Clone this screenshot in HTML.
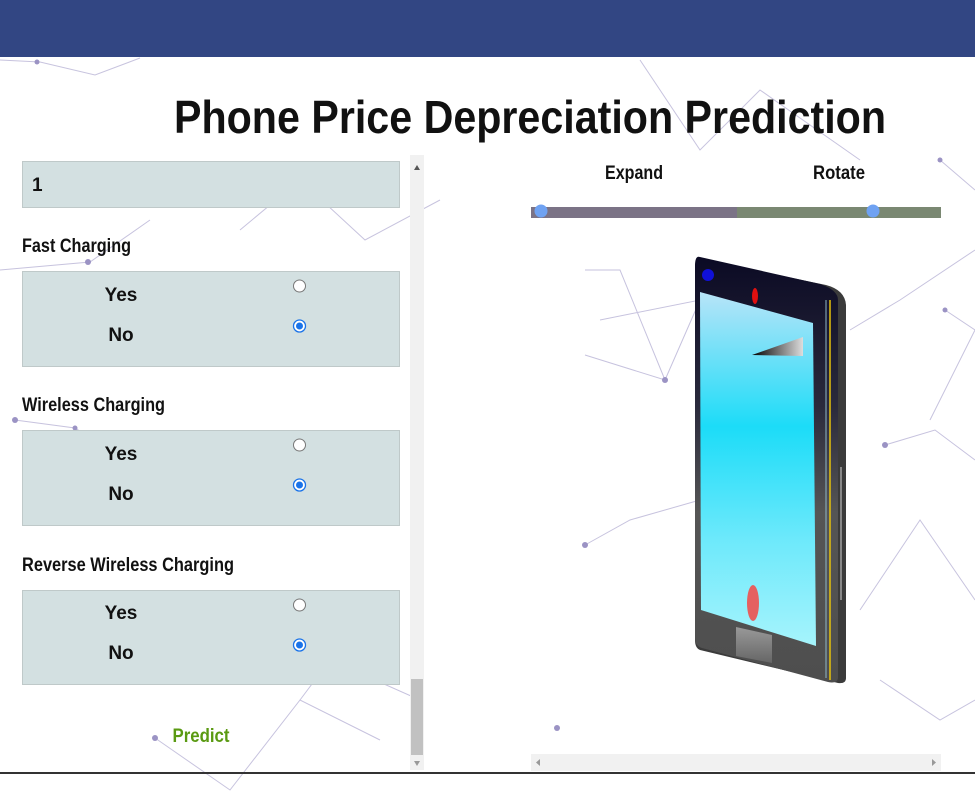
<!DOCTYPE html>
<html><head><meta charset="utf-8"><style>
html,body{margin:0;padding:0;width:975px;height:800px;overflow:hidden;background:#fff;}
svg{display:block;font-family:"Liberation Sans",sans-serif;}
</style></head><body>
<svg width="975" height="800" viewBox="0 0 975 800">
<defs>
<linearGradient id="bodyg" x1="0" y1="0" x2="0" y2="1"><stop offset="0" stop-color="#0b0a24"/><stop offset="0.35" stop-color="#2a2a3c"/><stop offset="0.6" stop-color="#555"/><stop offset="1" stop-color="#4e4e4e"/></linearGradient>
<linearGradient id="scrg" x1="0" y1="0" x2="0" y2="1"><stop offset="0" stop-color="#b8e4f8"/><stop offset="0.38" stop-color="#1cdcf8"/><stop offset="0.7" stop-color="#6de9fb"/><stop offset="1" stop-color="#a6f4fc"/></linearGradient>
<linearGradient id="spk" x1="0" y1="0" x2="1" y2="0"><stop offset="0" stop-color="#000"/><stop offset="1" stop-color="#ddd"/></linearGradient>
<linearGradient id="homeg" x1="0" y1="0" x2="0" y2="1"><stop offset="0" stop-color="#999"/><stop offset="1" stop-color="#666"/></linearGradient>
</defs>
<g stroke="#b9b4d6" stroke-width="1" fill="none" opacity="0.8">
<polyline points="0,60 40,62 95,75 140,58"/><polyline points="240,230 300,180 365,240 440,200"/><polyline points="0,270 90,262 150,220"/><polyline points="15,420 75,428 140,470"/>
<polyline points="585,545 630,520 700,500"/><polyline points="585,270 620,270 665,380 585,355"/><polyline points="885,445 935,430 975,460"/><polyline points="860,610 920,520 975,600"/>
<polyline points="155,738 230,790 300,700 380,740"/><polyline points="940,160 975,190"/><polyline points="945,310 975,330 930,420"/><polyline points="600,320 700,300 665,380"/><polyline points="300,700 330,660 420,700"/>
<polyline points="640,60 700,150 760,90 860,160"/><polyline points="850,330 900,300 975,250"/><polyline points="880,680 940,720 975,700"/>
</g>
<g fill="#9b93c4">
<circle cx="37" cy="62" r="2.5"/><circle cx="88" cy="262" r="3"/><circle cx="15" cy="420" r="3"/><circle cx="75" cy="428" r="2.5"/><circle cx="585" cy="545" r="3"/><circle cx="665" cy="380" r="3"/><circle cx="885" cy="445" r="3"/><circle cx="155" cy="738" r="3"/><circle cx="557" cy="728" r="3"/><circle cx="945" cy="310" r="2.5"/><circle cx="940" cy="160" r="2.5"/></g>
<rect x="0" y="0" width="975" height="57" fill="#324683"/>
<text x="530" y="133" text-anchor="middle" font-size="46" font-weight="bold" fill="#111" textLength="712" lengthAdjust="spacingAndGlyphs">Phone Price Depreciation Prediction</text>

<g>
<rect x="22.5" y="161.5" width="377" height="46" fill="#d3e0e1" stroke="#bfc9c9"/>
<text x="32" y="191" font-size="19" font-weight="bold" fill="#111">1</text>

<text x="22" y="252" font-size="19" font-weight="bold" fill="#111" textLength="109" lengthAdjust="spacingAndGlyphs">Fast Charging</text>
<rect x="22.5" y="271.5" width="377" height="95" fill="#d3e0e1" stroke="#bfc9c9"/>
<text x="121" y="301" text-anchor="middle" font-size="19" font-weight="bold" fill="#111">Yes</text>
<text x="121" y="341" text-anchor="middle" font-size="19" font-weight="bold" fill="#111">No</text>
<circle cx="299.5" cy="286" r="6" fill="#fff" stroke="#777"/>
<circle cx="299.5" cy="326" r="6" fill="#fff" stroke="#1a73e8" stroke-width="1.3"/><circle cx="299.5" cy="326" r="3.5" fill="#1a73e8"/>

<text x="22" y="411" font-size="19" font-weight="bold" fill="#111" textLength="143" lengthAdjust="spacingAndGlyphs">Wireless Charging</text>
<rect x="22.5" y="430.5" width="377" height="95" fill="#d3e0e1" stroke="#bfc9c9"/>
<text x="121" y="460" text-anchor="middle" font-size="19" font-weight="bold" fill="#111">Yes</text>
<text x="121" y="500" text-anchor="middle" font-size="19" font-weight="bold" fill="#111">No</text>
<circle cx="299.5" cy="445" r="6" fill="#fff" stroke="#777"/>
<circle cx="299.5" cy="485" r="6" fill="#fff" stroke="#1a73e8" stroke-width="1.3"/><circle cx="299.5" cy="485" r="3.5" fill="#1a73e8"/>

<text x="22" y="571" font-size="19" font-weight="bold" fill="#111" textLength="212" lengthAdjust="spacingAndGlyphs">Reverse Wireless Charging</text>
<rect x="22.5" y="590.5" width="377" height="94" fill="#d3e0e1" stroke="#bfc9c9"/>
<text x="121" y="619" text-anchor="middle" font-size="19" font-weight="bold" fill="#111">Yes</text>
<text x="121" y="659" text-anchor="middle" font-size="19" font-weight="bold" fill="#111">No</text>
<circle cx="299.5" cy="605" r="6" fill="#fff" stroke="#777"/>
<circle cx="299.5" cy="645" r="6" fill="#fff" stroke="#1a73e8" stroke-width="1.3"/><circle cx="299.5" cy="645" r="3.5" fill="#1a73e8"/>

<text x="201" y="742" text-anchor="middle" font-size="19" font-weight="bold" fill="#5a9a12" textLength="57" lengthAdjust="spacingAndGlyphs">Predict</text>

<g>
<rect x="410" y="155" width="14" height="615" fill="#f1f1f1"/>
<rect x="411" y="679" width="12" height="76" fill="#c1c1c1"/>
<path d="M414 170 L420 170 L417 165 Z" fill="#555"/><path d="M414 761 L420 761 L417 766 Z" fill="#999"/>
</g>
</g>

<g>
<text x="634" y="179" text-anchor="middle" font-size="19" font-weight="bold" fill="#111" textLength="58" lengthAdjust="spacingAndGlyphs">Expand</text>
<text x="839" y="179" text-anchor="middle" font-size="19" font-weight="bold" fill="#111" textLength="52" lengthAdjust="spacingAndGlyphs">Rotate</text>
<rect x="531" y="207" width="206" height="11" fill="#7b7386"/>
<rect x="737" y="207" width="204" height="11" fill="#7a8872"/>
<circle cx="541" cy="211" r="6.5" fill="#6fa2f2"/>
<circle cx="873" cy="211" r="6.5" fill="#6fa2f2"/>
</g>

<g>
<path d="M700 259 L826 285 Q845 290 846 305 L846 678 Q846 684 838 683 L700 650 Q695 648 695 640 L695 268 Q695 258 700 259 Z" fill="#3b3b3b"/>
<path d="M700 257 L820 284 Q838 290 838 300 L838 677 Q838 684 828 682 L702 648 Q695 646 695 638 L695 266 Q695 255 700 257 Z" fill="url(#bodyg)"/>
<path d="M830 300 L830 680" stroke="#e6c20a" stroke-width="1.5"/>
<path d="M826 300 L826 678" stroke="#8fb8c8" stroke-width="1"/>
<path d="M841 467 L841 600" stroke="#bbb" stroke-width="1.2"/>
<path d="M700 292 L813 323 L816 646 L701 610 Z" fill="url(#scrg)"/>
<path d="M752 355 L803 337 L803 356 Z" fill="url(#spk)"/>
<circle cx="708" cy="275" r="6" fill="#1010d8"/>
<ellipse cx="755" cy="296" rx="3" ry="8" fill="#e01010"/>
<ellipse cx="753" cy="603" rx="6" ry="18" fill="#e56060"/>
<path d="M736 627 L772 635 L772 663 L736 656 Z" fill="url(#homeg)"/>
</g>

<g>
<rect x="531" y="754" width="410" height="17" fill="#f1f1f1"/>
<path d="M540 759 L540 766 L536 762.5 Z" fill="#999"/><path d="M932 759 L932 766 L936 762.5 Z" fill="#999"/>
</g>
<rect x="0" y="772" width="975" height="2" fill="#333"/>
</svg>
</body></html>
